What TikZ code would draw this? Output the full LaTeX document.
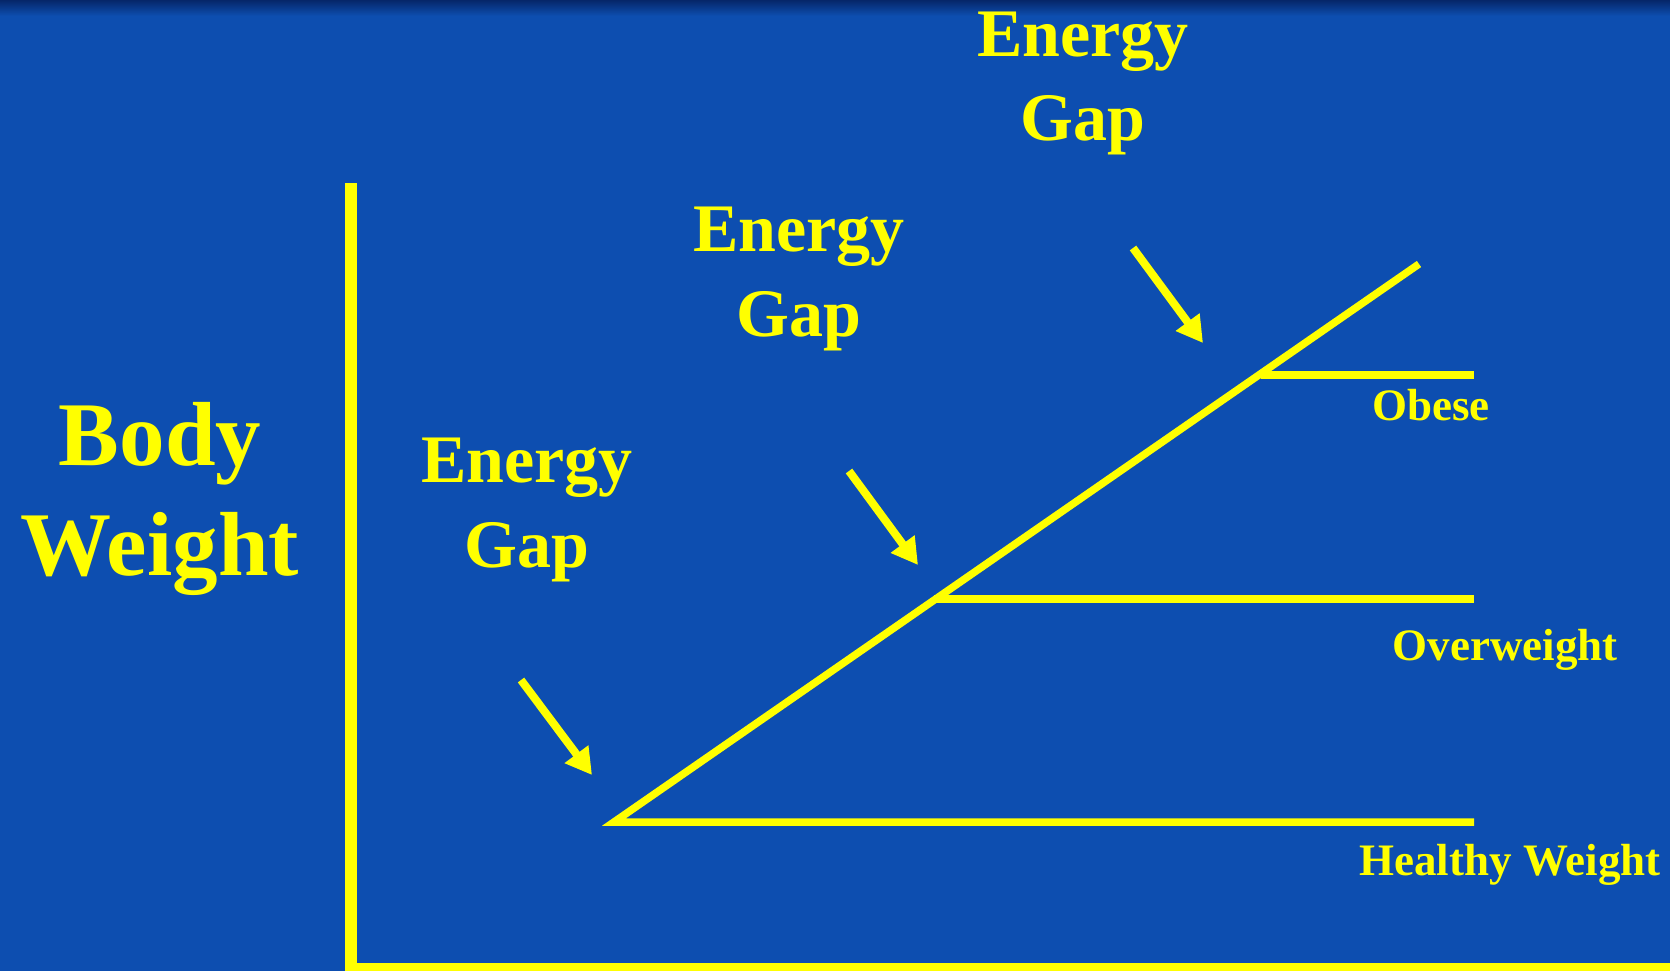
\documentclass[tikz,border=0pt]{standalone}
\usepackage{fontspec}
\setmainfont{Liberation Serif}
\usetikzlibrary{arrows.meta}
\definecolor{bgblue}{RGB}{13,78,176}
\definecolor{bgdark}{RGB}{6,38,105}
\definecolor{ylw}{RGB}{255,255,0}
\tikzset{
  lbl/.style={text=ylw, inner sep=0pt, anchor=base, font=\bfseries\fontsize{45}{54}\selectfont},
  gaplbl/.style={text=ylw, inner sep=0pt, anchor=base, align=center, font=\bfseries\fontsize{68}{85}\selectfont},
  axisline/.style={draw=ylw, line width=12pt},
  levelline/.style={draw=ylw, line width=7.5pt, miter limit=20},
  gaparrow/.style={draw=ylw, line width=8pt, -{Triangle[width=28pt,length=26pt]}},
}
\begin{document}
\begin{tikzpicture}[x=1pt,y=-1pt]
\useasboundingbox (0,0) rectangle (1670,971);
\fill[bgblue] (0,0) rectangle (1670,971);
\shade[top color=bgdark, bottom color=bgblue] (0,0) rectangle (1670,16);
% axes
\coordinate (ytop) at (351,183);
\coordinate (ybot) at (351,967);
\coordinate (xstart) at (345,968);
\coordinate (xend) at (1670,968);
\draw[axisline] (ytop) -- (ybot);
\draw[axisline, line width=11pt] (xstart) -- (xend);
% level lines
\coordinate (start) at (614,822);
\coordinate (hwend) at (1474,822);
\coordinate (ow) at (934,599);
\coordinate (owend) at (1474,599);
\coordinate (ob) at (1261,375);
\coordinate (obend) at (1474,375);
\coordinate (diagend) at (1419,264);
\draw[levelline] (hwend) -- (start) -- (diagend);
\draw[levelline] (ow) -- (owend);
\draw[levelline] (ob) -- (obend);
% arrows
\coordinate (a1s) at (521,680);
\coordinate (a1e) at (592,775);
\coordinate (a2s) at (849,471);
\coordinate (a2e) at (918,565);
\coordinate (a3s) at (1133,248);
\coordinate (a3e) at (1203,343);
\draw[gaparrow] (a1s) -- (a1e);
\draw[gaparrow] (a2s) -- (a2e);
\draw[gaparrow] (a3s) -- (a3e);
% labels
\node[gaplbl] (gap3) at (1083,141) {Energy\\Gap};
\node[gaplbl] (gap2) at (799,336) {Energy\\Gap};
\node[gaplbl] (gap1) at (527,567) {Energy\\Gap};
\node[gaplbl, font=\bfseries\fontsize{91}{110}\selectfont] (bw) at (160,575) {Body\\Weight};
\node[lbl] (obese) at (1431,420) {Obese};
\node[lbl] (over) at (1505,660) {Overweight};
\node[lbl] (healthy) at (1510,875) {Healthy Weight};
\end{tikzpicture}
\end{document}
